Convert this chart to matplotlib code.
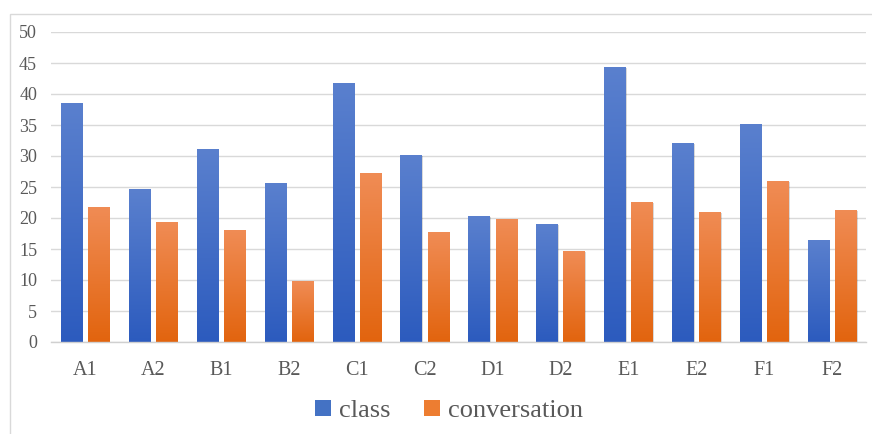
import numpy as np
import matplotlib
matplotlib.use("Agg")
import matplotlib.pyplot as plt
from matplotlib.colors import LinearSegmentedColormap
from matplotlib.patches import Rectangle, Patch
import matplotlib.transforms as mtransforms

categories = ["A1", "A2", "B1", "B2", "C1", "C2", "D1", "D2", "E1", "E2", "F1", "F2"]
class_vals = [38.5, 24.6, 31.1, 25.7, 41.8, 30.1, 20.3, 19.0, 44.3, 32.1, 35.1, 16.4]
conv_vals = [21.8, 19.3, 18.0, 9.8, 27.2, 17.7, 19.8, 14.6, 22.6, 21.0, 25.9, 21.3]
series_names = ["class", "conversation"]
y_ticks = [0, 5, 10, 15, 20, 25, 30, 35, 40, 45, 50]

plt.rcParams['font.family'] = ['Liberation Serif', 'DejaVu Serif']
text_color = '#595959'

fig = plt.figure(figsize=(8.72, 4.34), dpi=100)
fig.patch.set_facecolor('white')
# outer chart border
fig.add_artist(Rectangle((10/872, -0.01), 1.0, 1 - 14/434 + 0.01, transform=fig.transFigure,
                         fill=False, edgecolor='#D9D9D9', linewidth=1.0))

ax = fig.add_axes([51/872, 1 - 342/434, (866 - 51)/872, (342 - 32)/434])
x = np.arange(len(categories))
w = 0.31
off = 0.2

blue_cmap = LinearSegmentedColormap.from_list('b', ['#2C5BBE', '#5A80CE'])
orange_cmap = LinearSegmentedColormap.from_list('o', ['#E2640E', '#F08C55'])
grad = np.linspace(0, 1, 256).reshape(-1, 1)

shadow_off = mtransforms.ScaledTranslation(1.0/72, -0.6/72, fig.dpi_scale_trans)

def draw(vals, xpos, cmap, zorder):
    bars = ax.bar(xpos, vals, width=w, color='none', linewidth=0, zorder=zorder)
    for b in bars:
        x0, y0 = b.get_x(), b.get_y()
        ww, hh = b.get_width(), b.get_height()
        ax.add_patch(Rectangle((x0, y0), ww, hh, transform=ax.transData + shadow_off,
                               facecolor='#000000', alpha=0.15, linewidth=0, zorder=zorder - 0.5))
        im = ax.imshow(grad, cmap=cmap, origin='lower', extent=[x0, x0 + ww, y0, y0 + hh],
                       aspect='auto', zorder=zorder, interpolation='bicubic')
        im.set_clip_path(b)
    return bars

draw(class_vals, x - off, blue_cmap, 3)
draw(conv_vals, x + off, orange_cmap, 3)

ax.set_xlim(-0.5, len(categories) - 0.5)
ax.set_ylim(0, 50)
ax.set_yticks(y_ticks)
ax.set_xticks(x)
ax.set_xticklabels(categories)
ax.yaxis.grid(True, color='#D9D9D9', linewidth=1.0, zorder=0)
ax.set_axisbelow(True)
for s in ['top', 'right', 'left']:
    ax.spines[s].set_visible(False)
ax.spines['bottom'].set_color('#D0D0D0')
ax.spines['bottom'].set_linewidth(1.0)
ax.spines['bottom'].set_zorder(4)
ax.tick_params(axis='y', length=0, pad=10, labelsize=13, labelcolor=text_color)
ax.tick_params(axis='x', length=0, pad=14, labelsize=14.5, labelcolor=text_color)

handles = [Patch(facecolor='#4472C4', edgecolor='none'), Patch(facecolor='#ED7D31', edgecolor='none')]
leg = fig.legend(handles, series_names, loc='center', bbox_to_anchor=(449/872, 1 - 411/434),
                 ncol=2, frameon=False, fontsize=19, handlelength=0.6, handleheight=0.6,
                 handletextpad=0.3, columnspacing=1.3, labelcolor=text_color)

fig.savefig('out.png', dpi=100, facecolor='white')
